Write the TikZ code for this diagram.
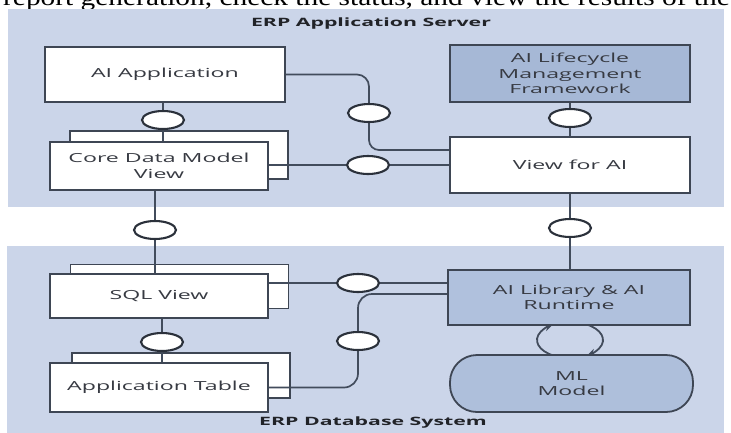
\documentclass[tikz,border=0pt]{standalone}
\usepackage{fontspec}
\newfontfamily\boxfont[FakeStretch=1.85]{Open Sans}
\newfontfamily\serifx[FakeStretch=1.225]{Liberation Serif}
\usetikzlibrary{shapes.geometric,arrows.meta,calc}
\pgfdeclarelayer{bg}
\pgfdeclarelayer{wires}
\pgfsetlayers{bg,wires,main}
\definecolor{panelc}{RGB}{203,213,233}
\definecolor{lcmc}{RGB}{166,184,214}
\definecolor{libc}{RGB}{176,193,221}
\definecolor{mlc}{RGB}{174,191,219}
\definecolor{edgec}{RGB}{62,70,84}
\definecolor{wirec}{RGB}{66,76,92}
\definecolor{textc}{RGB}{55,58,66}
\begin{document}
\begin{tikzpicture}[x=1pt,y=-1pt,
  panel/.style={fill=panelc,draw=none,inner sep=0pt},
  ptitle/.style={inner sep=0pt,text=textc!60!black,font=\boxfont\bfseries\fontsize{11.5}{13}\selectfont},
  blk/.style={draw=edgec,line width=1.8pt,inner sep=0pt,align=center,text=textc,
              font=\boxfont\fontsize{12.5}{15.5}\selectfont},
  wbox/.style={blk,fill=white},
  port/.style={ellipse,draw=edgec!70!black,line width=2.1pt,fill=white,
               minimum width=42pt,minimum height=18pt,inner sep=0pt},
  wire/.style={draw=wirec,line width=1.7pt}]
\useasboundingbox (0,0) rectangle (731,432);
\begin{pgfonlayer}{bg}
\clip (0,0) rectangle (731,432);
\node[anchor=base west,inner sep=0pt,font=\serifx\fontsize{24}{24}\selectfont] (toptext) at (3,5)
  {report generation, check the status, and view the results of the};
\node[panel,minimum width=716pt,minimum height=198pt] (srv) at (366,108) {};
\node[panel,minimum width=717pt,minimum height=190pt] (dbs) at (365.5,341) {};
\node[wbox,minimum width=218pt,minimum height=48pt] (coreb) at (179,155) {};
\node[wbox,minimum width=218pt,minimum height=44pt] (sqlb) at (179.5,286.5) {};
\node[wbox,minimum width=218pt,minimum height=45pt] (tabb) at (181,375.5) {};
\end{pgfonlayer}
\node[ptitle] (srvt) at (371,23.5) {ERP Application Server};
\node[ptitle] (dbst) at (373,422.5) {ERP Database System};
% boxes
\node[wbox,minimum width=240pt,minimum height=55pt] (app) at (165,74.5) {AI Application};
\node[blk,fill=lcmc,minimum width=240pt,minimum height=57pt] (lcm) at (570,73.5) {AI Lifecycle\\Management\\Framework};
\node[wbox,minimum width=240pt,minimum height=56pt] (viewai) at (570,165) {View for AI};
\node[wbox,minimum width=218pt,minimum height=48pt] (core) at (159,166) {Core Data Model\\View};
\node[wbox,minimum width=218pt,minimum height=44pt] (sql) at (159,296) {SQL View};
\node[wbox,minimum width=218pt,minimum height=49pt] (tab) at (159,387.5) {Application Table};
\node[blk,fill=libc,minimum width=242pt,minimum height=55pt] (ailib) at (569,297.5) {AI Library \& AI\\Runtime};
\node[blk,fill=mlc,rounded corners=27pt,minimum width=243pt,minimum height=57pt] (ml) at (571.5,383.5) {ML\\Model};
% ports
\node[port] (o1) at (163,120) {};
\node[port] (o2) at (369,113) {};
\node[port] (o3) at (368,165) {};
\node[port] (o4) at (570,118) {};
\node[port] (o5) at (155,230) {};
\node[port] (o6) at (570,228) {};
\node[port] (o7) at (358,283) {};
\node[port] (o8) at (358,341) {};
\node[port] (o9) at (162,342) {};
\coordinate (cyc) at (570,340);
\begin{pgfonlayer}{wires}
\draw[wire] (o1 |- app.south) -- (o1 |- core.north);
\draw[wire,rounded corners=12pt] (app.east) -| (o2.north);
\draw[wire,rounded corners=10pt] (o2.south) |- ($(viewai.west)+(0,-15)$);
\draw[wire] (core.east |- o3) -- (viewai.west |- o3);
\draw[wire] (lcm.south) -- (viewai.north);
\draw[wire] (o5 |- core.south) -- (o5 |- sql.north);
\draw[wire] (o6 |- viewai.south) -- (o6 |- ailib.north);
\draw[wire] (sql.east |- o7) -- (ailib.west |- o7);
\draw[wire,rounded corners=14pt] ($(ailib.west)+(0,-3.5)$) -| (o8.north);
\draw[wire,rounded corners=14pt] (o8.south) |- (tab.east);
\draw[wire] (o9 |- sql.south) -- (o9 |- tab.north);
\draw[wire,line width=1.8pt,-{Stealth[length=8pt,width=8pt]}] ($(cyc)+(118:33 and 18)$)
  arc[start angle=118,end angle=238,x radius=33,y radius=18];
\draw[wire,line width=1.8pt,-{Stealth[length=8pt,width=8pt]}] ($(cyc)+(-62:33 and 18)$)
  arc[start angle=-62,end angle=58,x radius=33,y radius=18];
\end{pgfonlayer}
\end{tikzpicture}
\end{document}
